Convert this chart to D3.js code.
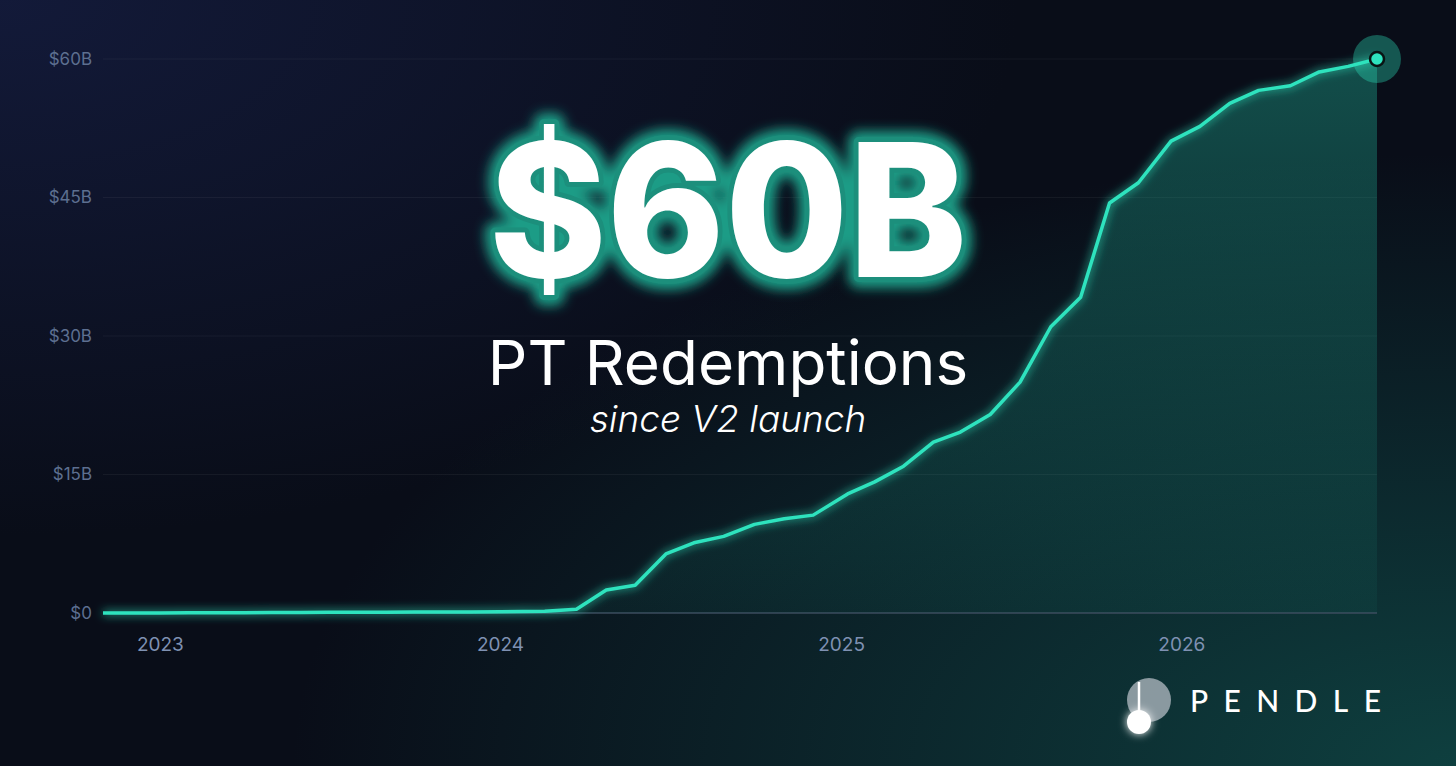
<!DOCTYPE html>
<html lang="en">
<head>
  <meta charset="UTF-8">
  <title>PT Redemptions since V2 launch</title>
  <script src="https://d3js.org/d3.v7.min.js"></script>
  <style>
    html, body { margin: 0; padding: 0; background: #090d18; }
    svg { display: block; }
    .tick text { font-family: Inter, "Noto Sans", sans-serif; }
  </style>
</head>
<body>
  <svg id="chart" width="1456" height="766"></svg>

  <script>
    // cumulative PT redemptions, $B
    const dates = [
      "2022-11-01", "2022-12-01", "2023-01-01", "2023-02-01", "2023-03-01", "2023-04-01",
      "2023-05-01", "2023-06-01", "2023-07-01", "2023-08-01", "2023-09-01", "2023-10-01",
      "2023-11-01", "2023-12-01", "2024-01-01", "2024-02-18", "2024-03-23", "2024-04-24",
      "2024-05-25", "2024-06-27", "2024-07-27", "2024-08-28", "2024-09-30", "2024-11-01",
      "2024-12-02", "2025-01-08", "2025-02-06", "2025-03-09", "2025-04-10", "2025-05-09",
      "2025-06-10", "2025-07-12", "2025-08-14", "2025-09-15", "2025-10-16", "2025-11-16",
      "2025-12-21", "2026-01-21", "2026-02-22", "2026-03-25", "2026-04-28", "2026-05-29",
      "2026-06-29", "2026-07-30"
    ];
    const values = [
      0.0, 0.0, 0.01, 0.02, 0.03, 0.04,
      0.05, 0.06, 0.07, 0.08, 0.09, 0.1,
      0.11, 0.12, 0.14, 0.2, 0.4, 2.5,
      3.0, 6.4, 7.6, 8.3, 9.6, 10.2,
      10.6, 12.9, 14.2, 15.9, 18.5, 19.6,
      21.5, 25.0, 31.0, 34.2, 44.4, 46.6,
      51.1, 52.7, 55.2, 56.6, 57.1, 58.6,
      59.2, 60.0
    ];
    const yTicks = [0, 15, 30, 45, 60];
    const xTicks = ["2023-01-01", "2024-01-01", "2025-01-01", "2026-01-01"];

    const W = 1456, H = 766;
    const parse = d3.timeParse("%Y-%m-%d");
    const data = dates.map((d, i) => ({ date: parse(d), value: values[i] }));

    const svg = d3.select("#chart");
    const defs = svg.append("defs");

    // background glows
    const bgTL = defs.append("radialGradient").attr("id", "bgTL")
      .attr("cx", 0).attr("cy", 0).attr("r", 0.7);
    bgTL.append("stop").attr("offset", "0%").attr("stop-color", "#161e44").attr("stop-opacity", 0.75);
    bgTL.append("stop").attr("offset", "100%").attr("stop-color", "#161e44").attr("stop-opacity", 0);

    const bgBR = defs.append("radialGradient").attr("id", "bgBR")
      .attr("cx", 1).attr("cy", 1).attr("r", 0.8);
    bgBR.append("stop").attr("offset", "0%").attr("stop-color", "#10504c").attr("stop-opacity", 0.75);
    bgBR.append("stop").attr("offset", "100%").attr("stop-color", "#10504c").attr("stop-opacity", 0);

    const areaGrad = defs.append("linearGradient").attr("id", "areaGrad")
      .attr("x1", 0).attr("y1", 0).attr("x2", 0).attr("y2", 1);
    areaGrad.append("stop").attr("offset", "0%").attr("stop-color", "#1fa890").attr("stop-opacity", 0.42);
    areaGrad.append("stop").attr("offset", "100%").attr("stop-color", "#1fa890").attr("stop-opacity", 0.06);

    const glow = defs.append("filter").attr("id", "glow")
      .attr("x", "-10%").attr("y", "-10%").attr("width", "120%").attr("height", "120%");
    glow.append("feGaussianBlur").attr("stdDeviation", 5).attr("result", "b");
    const gm = glow.append("feMerge");
    gm.append("feMergeNode").attr("in", "b");
    gm.append("feMergeNode").attr("in", "SourceGraphic");

    const textGlow = defs.append("filter").attr("id", "textGlow")
      .attr("x", "-20%").attr("y", "-30%").attr("width", "140%").attr("height", "160%");
    textGlow.append("feGaussianBlur").attr("stdDeviation", 6);

    const dotGlow = defs.append("filter").attr("id", "dotGlow")
      .attr("x", "-100%").attr("y", "-100%").attr("width", "300%").attr("height", "300%");
    dotGlow.append("feGaussianBlur").attr("stdDeviation", 4).attr("result", "b");
    const dm = dotGlow.append("feMerge");
    dm.append("feMergeNode").attr("in", "b");
    dm.append("feMergeNode").attr("in", "SourceGraphic");

    svg.append("rect").attr("width", W).attr("height", H).attr("fill", "#090d18");
    svg.append("rect").attr("width", W).attr("height", H).attr("fill", "url(#bgTL)");
    svg.append("rect").attr("width", W).attr("height", H).attr("fill", "url(#bgBR)");

    // scales
    const x = d3.scaleTime()
      .domain([parse("2022-11-01"), parse("2026-07-30")])
      .range([103, 1377]);
    const y = d3.scaleLinear().domain([0, 60]).range([613, 59]);

    // grid
    svg.append("g").selectAll("line")
      .data(yTicks)
      .join("line")
      .attr("x1", 103).attr("x2", 1377)
      .attr("y1", d => y(d)).attr("y2", d => y(d))
      .attr("stroke", d => d === 0 ? "#3c4b5e" : "#ffffff")
      .attr("stroke-opacity", d => d === 0 ? 1 : 0.05)
      .attr("stroke-width", d => d === 0 ? 1.5 : 1);

    // axes
    const yAxis = svg.append("g")
      .attr("transform", "translate(92,0)")
      .call(d3.axisLeft(y).tickValues(yTicks).tickSize(0).tickPadding(0)
        .tickFormat(d => d === 0 ? "$0" : "$" + d + "B"));
    yAxis.select(".domain").remove();
    yAxis.selectAll("text").attr("fill", "#5d6f90").attr("font-size", 17);

    const xAxis = svg.append("g")
      .attr("transform", "translate(0,637)")
      .call(d3.axisBottom(x).tickValues(xTicks.map(parse)).tickSize(0).tickPadding(0)
        .tickFormat(d3.timeFormat("%Y")));
    xAxis.select(".domain").remove();
    xAxis.selectAll("text").attr("fill", "#7f91b2").attr("font-size", 19).attr("dy", "0.71em");

    // area + line
    const area = d3.area().x(d => x(d.date)).y0(y(0)).y1(d => y(d.value));
    const line = d3.line().x(d => x(d.date)).y(d => y(d.value));

    svg.append("path").datum(data)
      .attr("d", area)
      .attr("fill", "url(#areaGrad)");

    svg.append("path").datum(data)
      .attr("d", line)
      .attr("fill", "none")
      .attr("stroke", "#2ee3be")
      .attr("stroke-width", 3.5)
      .attr("stroke-linejoin", "round")
      .attr("filter", "url(#glow)");

    // end point
    const last = data[data.length - 1];
    svg.append("circle")
      .attr("cx", x(last.date)).attr("cy", y(last.value)).attr("r", 24)
      .attr("fill", "#2ee3be").attr("fill-opacity", 0.35);
    svg.append("circle")
      .attr("cx", x(last.date)).attr("cy", y(last.value)).attr("r", 7)
      .attr("fill", "#2ee3be").attr("stroke", "#0a1414").attr("stroke-width", 2.5);

    // headline
    const cx = 728;
    const big = svg.append("g").attr("font-family", "Inter, 'Noto Sans', sans-serif")
      .attr("font-weight", 800).attr("font-size", 186).attr("text-anchor", "middle");
    const bigText = (g) => g.append("text").attr("x", cx).attr("y", 277).text("$60B")
      .attr("textLength", 478).attr("lengthAdjust", "spacingAndGlyphs");
    bigText(big)
      .attr("fill", "#1c9c86").attr("stroke", "#1c9c86").attr("stroke-width", 22)
      .attr("stroke-linejoin", "round").attr("filter", "url(#textGlow)");
    bigText(big)
      .attr("fill", "#1c8f7c").attr("stroke", "#1c8f7c").attr("stroke-width", 10)
      .attr("stroke-linejoin", "round");
    bigText(big).attr("fill", "#ffffff");

    svg.append("text")
      .attr("x", cx).attr("y", 385)
      .attr("text-anchor", "middle")
      .attr("font-family", "Inter, 'Noto Sans', sans-serif")
      .attr("font-size", 62).attr("font-weight", 400)
      .attr("fill", "#ffffff")
      .text("PT Redemptions");

    svg.append("text")
      .attr("x", cx).attr("y", 432)
      .attr("text-anchor", "middle")
      .attr("font-family", "Inter, 'Noto Sans', sans-serif")
      .attr("font-size", 37).attr("font-style", "italic").attr("font-weight", 300)
      .attr("fill", "#ffffff")
      .text("since V2 launch");

    // logo
    const logo = svg.append("g");
    logo.append("circle").attr("cx", 1149).attr("cy", 700).attr("r", 22)
      .attr("fill", "#b4bcc4").attr("fill-opacity", 0.75);
    logo.append("line").attr("x1", 1139).attr("x2", 1139).attr("y1", 682).attr("y2", 716)
      .attr("stroke", "#ffffff").attr("stroke-width", 2.5);
    logo.append("circle").attr("cx", 1139).attr("cy", 722).attr("r", 12)
      .attr("fill", "#ffffff").attr("filter", "url(#dotGlow)");
    logo.append("text")
      .attr("x", 1190).attr("y", 712)
      .attr("font-family", "Lato, Inter, sans-serif")
      .attr("font-size", 30).attr("font-weight", 500)
      .attr("fill", "#ffffff")
      .attr("textLength", 191).attr("lengthAdjust", "spacing")
      .text("PENDLE");
  </script>
</body>
</html>
